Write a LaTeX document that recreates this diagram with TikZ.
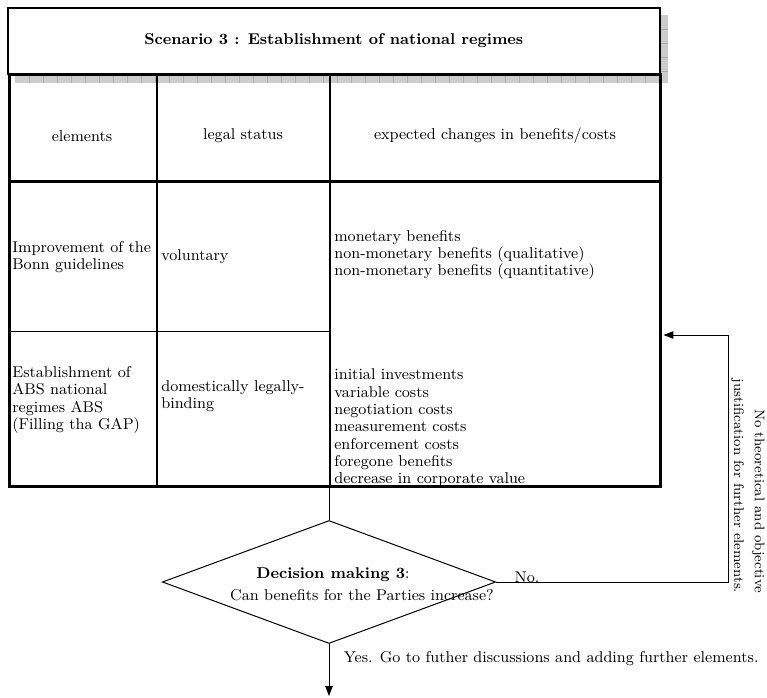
\documentclass[tikz,border=0pt]{standalone}
\usepackage{tikz}
\usetikzlibrary{arrows.meta,positioning,shapes.geometric}
\tikzset{
  every node/.style={font=\fontsize{9.4}{10.4}\selectfont},
  cell/.style={align=left, inner sep=0pt},
  headcell/.style={align=center, inner sep=0pt},
  frame/.style={draw=black, line width=1.8pt},
  midline/.style={draw=black, line width=1.2pt},
  thinline/.style={draw=black, line width=0.6pt},
  arr/.style={-{Triangle[length=6pt,width=4.5pt]}, thinline},
}

\begin{document}
\begin{tikzpicture}[x=0.6pt,y=-0.6pt]
  \useasboundingbox (0,0) rectangle (767,698);
  % shadow of the title box
  \fill[gray!40] (15,15) rectangle (668,83);
  \foreach \t in {1,...,46}
    \draw[gray!65, line width=0.4pt] (15+\t*14,74) -- (15+\t*14,83);
  \foreach \t in {1,...,4}
    \draw[gray!65, line width=0.4pt] (659,15+\t*14) -- (668,15+\t*14);
  \node[draw, fill=white, line width=1.2pt, minimum width=391pt, minimum height=39.6pt,
        anchor=north west, font=\fontsize{9.4}{10.4}\selectfont\bfseries] (title) at (7,7) {Scenario 3 : Establishment of national regimes};
  % table
  \node[frame, minimum width=390.6pt, minimum height=247.2pt, anchor=north west] (tbl) at (8,73) {};
  \draw[midline] (157,73) -- (157,485);
  \draw[midline] (330,73) -- (330,485);
  \draw[frame] (8,181) -- (659,181);
  \draw[thinline] (8,331) -- (330,331);
  \node[headcell] (hel) at (82,136) {elements};
  \node[headcell] (hls) at (243,136) {legal status};
  \node[headcell] (hex) at (495,136) {expected changes in benefits/costs};
  \node[cell, anchor=west] (el1) at (12,257) {Improvement of the\\Bonn guidelines};
  \node[cell, anchor=west] (ls1) at (161,257) {voluntary};
  \node[cell, anchor=west] (ex1) at (334,255) {monetary benefits\\non-monetary benefits (qualitative)\\non-monetary benefits (quantitative)};
  \node[cell, anchor=west] (el2) at (12,400) {Establishment of\\ABS national\\regimes ABS\\(Filling tha GAP)};
  \node[cell, anchor=west] (ls2) at (161,396) {domestically legally-\\binding};
  \node[cell, anchor=west] (ex2) at (334,428) {initial investments\\variable costs\\negotiation costs\\measurement costs\\enforcement costs\\foregone benefits\\decrease in corporate value};
  % decision
  \node[diamond, thinline, minimum width=200pt, minimum height=73.8pt] (dm) at (329,582) {};
  \node (dmk) at (333,575) {\textbf{Decision making 3}:};
  \node (dmq) at (362,595) {Can benefits for the Parties increase?};
  \node (no) at (527,577) {No.};
  \node[anchor=west] (yes) at (338,659) {Yes. Go to futher discussions and adding further elements.};
  \node[rotate=-90, align=right, inner sep=0pt, font=\fontsize{8.4}{12.4}\selectfont] (nojust) at (748,486) {No theoretical and objective\\justification for further elements.};
  % connectors
  \coordinate (turn) at (728,335);
  \coordinate (down) at (329,696);
  \draw[thinline] (tbl.south -| dm.north) -- (dm.north);
  \draw[arr, shorten >=0.9pt] (dm.east) -| (turn) -- (tbl.east |- turn);
  \draw[arr] (dm.south) -- (down);
\end{tikzpicture}
\end{document}
